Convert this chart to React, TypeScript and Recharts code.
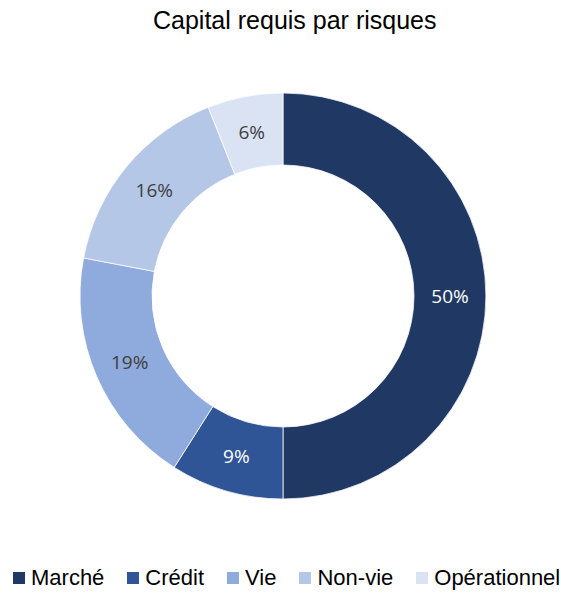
import { PieChart, Pie, Cell, Legend } from 'recharts';

const categories = ['Marché', 'Crédit', 'Vie', 'Non-vie', 'Opérationnel'];
const shares = [50, 9, 19, 16, 6];
const colors = ['#203864', '#2F5597', '#8FAADC', '#B4C7E7', '#DAE3F3'];
const labelColors = ['#ffffff', '#ffffff', '#404040', '#404040', '#404040'];

const data = categories.map((name, i) => ({ name, value: shares[i] }));

const RADIAN = Math.PI / 180;

const renderLabel = (props: any) => {
  const { cx, cy, midAngle, innerRadius, outerRadius, index, value } = props;
  const r = (innerRadius + outerRadius) / 2;
  const x = cx + r * Math.cos(-midAngle * RADIAN);
  const y = cy + r * Math.sin(-midAngle * RADIAN);
  return (
    <text
      x={x}
      y={y}
      fill={labelColors[index]}
      textAnchor="middle"
      dominantBaseline="central"
      style={{ fontFamily: 'Open Sans, sans-serif', fontSize: 19 }}
    >
      {value}%
    </text>
  );
};

const renderLegend = () => (
  <div
    style={{
      display: 'flex',
      flexWrap: 'nowrap',
      whiteSpace: 'nowrap',
      paddingLeft: 13,
      fontFamily: 'Liberation Sans, Arial, sans-serif',
      fontSize: 22,
      color: '#000',
    }}
  >
    {categories.map((c, i) => (
      <div
        key={c}
        style={{
          display: 'flex',
          alignItems: 'center',
          flexShrink: 0,
          marginRight: i < categories.length - 1 ? 23 : 0,
        }}
      >
        <span style={{ display: 'inline-block', width: 12, height: 12, background: colors[i], marginRight: 6 }} />
        <span>{c}</span>
      </div>
    ))}
  </div>
);

export default function App() {
  return (
    <div style={{ position: 'absolute', left: 0, top: 0, width: 561, height: 593, background: '#fff' }}>
      <div
        style={{
          position: 'absolute',
          top: 6,
          left: 153,
          whiteSpace: 'nowrap',
          fontFamily: 'Liberation Sans, Arial, sans-serif',
          fontSize: 25,
          color: '#000',
        }}
      >
        Capital requis par risques
      </div>
      <PieChart width={561} height={593} margin={{ top: 0, right: 0, bottom: 0, left: 0 }}>
        <Pie
          data={data}
          dataKey="value"
          nameKey="name"
          cx={283}
          cy={296}
          innerRadius={131}
          outerRadius={203}
          startAngle={90}
          endAngle={-270}
          stroke="#ffffff"
          strokeWidth={0.75}
          label={renderLabel}
          labelLine={false}
          isAnimationActive={false}
        >
          {data.map((d, i) => (
            <Cell key={d.name} fill={colors[i]} />
          ))}
        </Pie>
        <Legend
          content={renderLegend}
          verticalAlign="bottom"
          wrapperStyle={{ bottom: 2, left: 0, width: 561 }}
        />
      </PieChart>
    </div>
  );
}
